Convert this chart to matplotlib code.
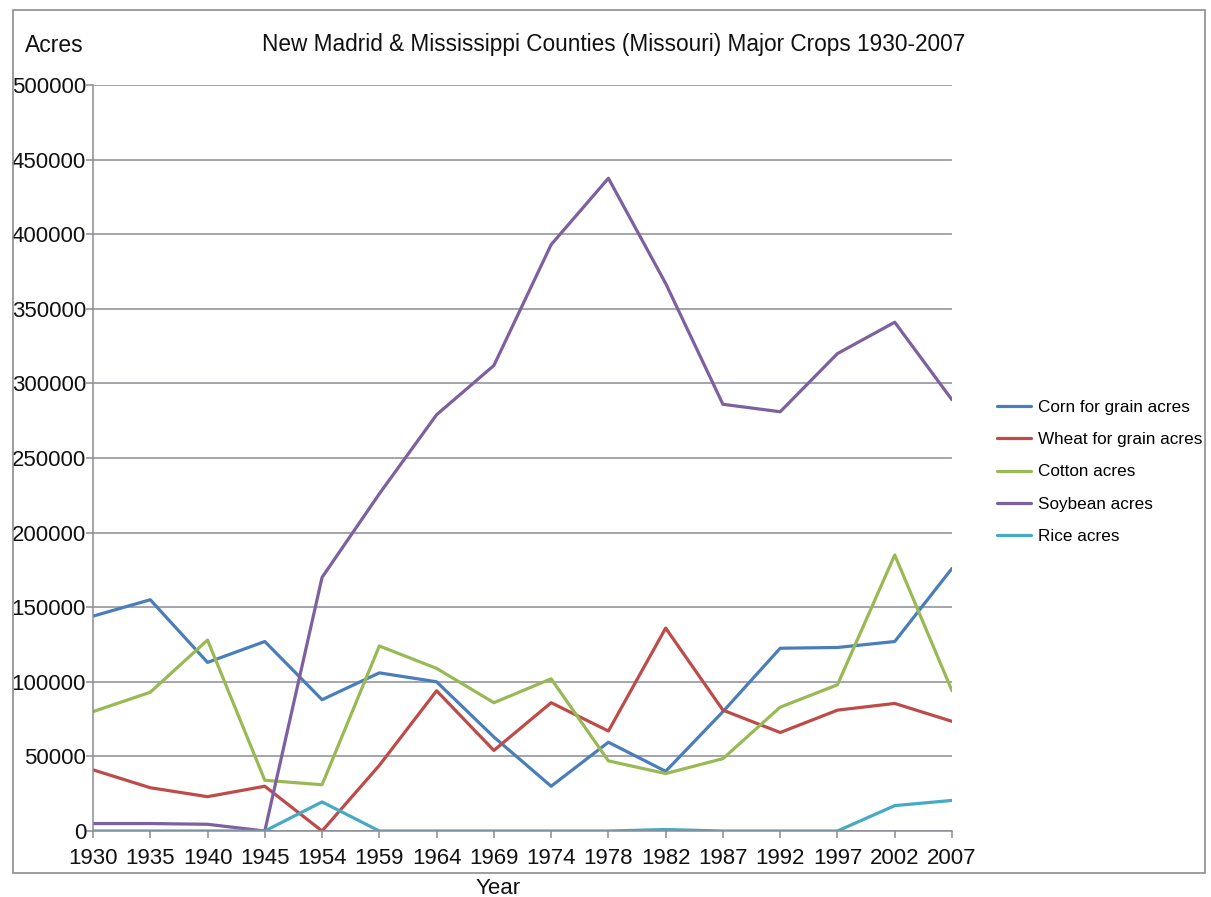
import matplotlib
matplotlib.use("Agg")
import matplotlib.pyplot as plt
from matplotlib.patches import Rectangle

plt.rcParams['font.family'] = ['Liberation Sans', 'DejaVu Sans']

years = ["1930", "1935", "1940", "1945", "1954", "1959", "1964", "1969",
         "1974", "1978", "1982", "1987", "1992", "1997", "2002", "2007"]
corn = [144000, 155000, 113000, 127000, 88000, 106000, 100000, 63000,
        30000, 59500, 40000, 80000, 122500, 123000, 127000, 176000]
wheat = [41000, 29000, 23000, 30000, 0, 44000, 94000, 54000,
         86000, 67000, 136000, 81000, 66000, 81000, 85500, 73500]
cotton = [80000, 93000, 128000, 34000, 31000, 124000, 109000, 86000,
          102000, 47000, 38500, 48500, 83000, 98000, 185000, 94000]
soybean = [5000, 5000, 4500, 0, 170000, 226000, 279000, 312000,
           393000, 437500, 367000, 286000, 281000, 320000, 341000, 289000]
rice = [0, 0, 0, 0, 19500, 0, 0, 0, 0, 0, 1000, 0, 0, 0, 17000, 20500]

series = [
    ("Corn for grain acres", corn, "#4a7ebb"),
    ("Wheat for grain acres", wheat, "#be4b48"),
    ("Cotton acres", cotton, "#98b954"),
    ("Soybean acres", soybean, "#7d60a0"),
    ("Rice acres", rice, "#46aac5"),
]

W, H = 1211, 897
fig = plt.figure(figsize=(W / 100, H / 100), dpi=100)
ax = fig.add_axes([93 / W, 1 - 831 / H, (952 - 93) / W, (831 - 85) / H])

x = list(range(len(years)))
handles = []
for name, vals, col in series:
    h, = ax.plot(x, vals, color=col, lw=2.3, label=name, solid_capstyle='round')
    handles.append(h)

grid_c = "#8c8c96"
ax.set_xlim(0, len(years) - 1)
ax.set_ylim(0, 500000)
ax.set_yticks(range(0, 500001, 50000))
ax.set_xticks(x)
ax.set_xticklabels(years)
ax.yaxis.grid(True, color=grid_c, lw=1.1)
ax.set_axisbelow(True)
for s in ["top", "right"]:
    ax.spines[s].set_visible(False)
for s in ["left", "bottom"]:
    ax.spines[s].set_color(grid_c)
    ax.spines[s].set_linewidth(1.1)
ax.tick_params(axis='both', colors=grid_c, length=5, width=1.1, labelsize=16,
               labelcolor="#111111")
ax.tick_params(axis='y', pad=0)
ax.tick_params(axis='x', pad=7)

fig.text(614 / W, 1 - 45 / H, "New Madrid & Mississippi Counties (Missouri) Major Crops 1930-2007",
         ha='center', va='center', fontsize=16.3, color="#111111")
fig.text(25 / W, 1 - 46 / H, "Acres", ha='left', va='center', fontsize=16.5, color="#111111")
fig.text(498 / W, 1 - 888 / H, "Year", ha='center', va='center', fontsize=16, color="#111111")

fig.legend(handles=handles, loc='center left', bbox_to_anchor=(982 / W, 1 - 472 / H),
           frameon=False, fontsize=12.3, handlelength=1.95, handletextpad=0.45,
           labelspacing=1.0)

fig.patches.append(Rectangle((13 / W, 1 - 873 / H), (1205 - 13) / W, (873 - 10) / H,
                             transform=fig.transFigure, fill=False,
                             edgecolor="#8c8c8c", lw=1.2))

fig.savefig("out.png", dpi=100)
